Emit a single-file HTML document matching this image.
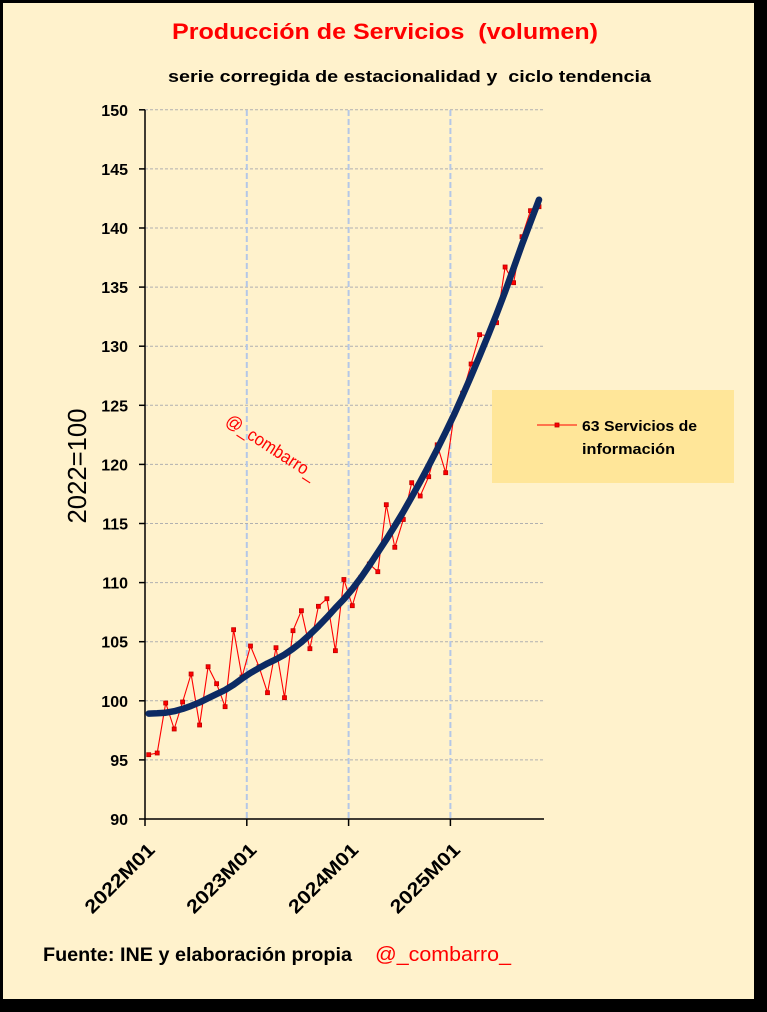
<!DOCTYPE html>
<html><head><meta charset="utf-8">
<style>
html,body{margin:0;padding:0;background:#000;}
svg{display:block;}
text{font-family:"Liberation Sans",Arial,sans-serif;white-space:pre;}
</style></head>
<body>
<svg width="767" height="1012" viewBox="0 0 767 1012" xmlns="http://www.w3.org/2000/svg" xml:space="preserve">
<rect x="0" y="0" width="767" height="1012" fill="#000"/>
<rect x="3" y="3" width="751" height="996" fill="#FFF2CC"/>
<text x="385" y="39" font-size="22.5" font-weight="bold" fill="#FF0000" text-anchor="middle" textLength="426" lengthAdjust="spacingAndGlyphs">Producción de Servicios  (volumen)</text>
<text x="409.5" y="82" font-size="16.5" font-weight="bold" fill="#000" text-anchor="middle" textLength="483" lengthAdjust="spacingAndGlyphs">serie corregida de estacionalidad y  ciclo tendencia</text>
<g stroke="#B0B0B0" stroke-width="1" stroke-dasharray="3,2">
<line x1="145" y1="759.9" x2="544" y2="759.9"/>
<line x1="145" y1="700.8" x2="544" y2="700.8"/>
<line x1="145" y1="641.7" x2="544" y2="641.7"/>
<line x1="145" y1="582.6" x2="544" y2="582.6"/>
<line x1="145" y1="523.5" x2="544" y2="523.5"/>
<line x1="145" y1="464.4" x2="544" y2="464.4"/>
<line x1="145" y1="405.3" x2="544" y2="405.3"/>
<line x1="145" y1="346.2" x2="544" y2="346.2"/>
<line x1="145" y1="287.1" x2="544" y2="287.1"/>
<line x1="145" y1="228.0" x2="544" y2="228.0"/>
<line x1="145" y1="168.9" x2="544" y2="168.9"/>
<line x1="145" y1="109.8" x2="544" y2="109.8"/>
</g>
<g stroke="#B4C7E7" stroke-width="2" stroke-dasharray="6,3">
<line x1="246.8" y1="110" x2="246.8" y2="819"/>
<line x1="348.6" y1="110" x2="348.6" y2="819"/>
<line x1="450.4" y1="110" x2="450.4" y2="819"/>
</g>
<g stroke="#000" stroke-width="1.5">
<line x1="145" y1="109.8" x2="145" y2="819"/>
<line x1="145" y1="819" x2="544" y2="819"/>
<line x1="139" y1="819" x2="145" y2="819"/>
<line x1="139" y1="759.9" x2="145" y2="759.9"/>
<line x1="139" y1="700.8" x2="145" y2="700.8"/>
<line x1="139" y1="641.7" x2="145" y2="641.7"/>
<line x1="139" y1="582.6" x2="145" y2="582.6"/>
<line x1="139" y1="523.5" x2="145" y2="523.5"/>
<line x1="139" y1="464.4" x2="145" y2="464.4"/>
<line x1="139" y1="405.3" x2="145" y2="405.3"/>
<line x1="139" y1="346.2" x2="145" y2="346.2"/>
<line x1="139" y1="287.1" x2="145" y2="287.1"/>
<line x1="139" y1="228.0" x2="145" y2="228.0"/>
<line x1="139" y1="168.9" x2="145" y2="168.9"/>
<line x1="139" y1="109.8" x2="145" y2="109.8"/>
<line x1="145" y1="819" x2="145" y2="826"/>
<line x1="246.8" y1="819" x2="246.8" y2="826"/>
<line x1="348.6" y1="819" x2="348.6" y2="826"/>
<line x1="450.4" y1="819" x2="450.4" y2="826"/>
</g>
<g font-size="16" font-weight="bold" fill="#000" text-anchor="end">
<text x="128" y="825">90</text>
<text x="128" y="765.9">95</text>
<text x="128" y="706.8">100</text>
<text x="128" y="647.7">105</text>
<text x="128" y="588.6">110</text>
<text x="128" y="529.5">115</text>
<text x="128" y="470.4">120</text>
<text x="128" y="411.3">125</text>
<text x="128" y="352.2">130</text>
<text x="128" y="293.1">135</text>
<text x="128" y="234.0">140</text>
<text x="128" y="174.9">145</text>
<text x="128" y="115.8">150</text>
</g>
<text transform="translate(86,466) rotate(-90)" font-size="26" fill="#000" text-anchor="middle" textLength="115" lengthAdjust="spacingAndGlyphs">2022=100</text>
<g font-size="19" font-weight="bold" fill="#000" text-anchor="end">
<text transform="translate(156,851) rotate(-45)" textLength="90" lengthAdjust="spacingAndGlyphs">2022M01</text>
<text transform="translate(257.8,851) rotate(-45)" textLength="90" lengthAdjust="spacingAndGlyphs">2023M01</text>
<text transform="translate(359.6,851) rotate(-45)" textLength="90" lengthAdjust="spacingAndGlyphs">2024M01</text>
<text transform="translate(461.4,851) rotate(-45)" textLength="90" lengthAdjust="spacingAndGlyphs">2025M01</text>
</g>
<text transform="translate(268,452) rotate(33)" font-size="18" fill="#FF0000" text-anchor="middle" textLength="104" lengthAdjust="spacingAndGlyphs">@_combarro_</text>
<polyline fill="none" stroke="#FF0000" stroke-width="1.1" points="148.7,754.7 157.2,753 165.7,703 174.2,729 182.6,702 191.1,674 199.6,725 208.1,666.7 216.6,683.7 225.1,706.7 233.6,629.7 242.0,677 250.5,646 259.0,666.7 267.5,692.7 276.0,647.7 284.5,697.7 293.0,630.7 301.4,610.7 309.9,648.7 318.4,606.3 326.9,598.7 335.4,650.7 343.9,579.5 352.3,605.7 360.8,577.3 369.3,564 377.8,571.7 386.3,504.7 394.8,547.3 403.3,519.5 411.7,482.7 420.2,496 428.7,476.7 437.2,444.8 445.7,472.7 454.2,414.4 462.6,393.2 471.1,364 479.6,334.7 488.1,335.7 496.6,322.7 505.1,267 513.6,282.7 522.0,236.7 530.5,210.7 539.0,206.7"/>
<g fill="#FF0000" stroke="#C00000" stroke-width="0.8">
<rect x="146.7" y="752.7" width="4" height="4"/>
<rect x="155.2" y="751" width="4" height="4"/>
<rect x="163.7" y="701" width="4" height="4"/>
<rect x="172.2" y="727" width="4" height="4"/>
<rect x="180.6" y="700" width="4" height="4"/>
<rect x="189.1" y="672" width="4" height="4"/>
<rect x="197.6" y="723" width="4" height="4"/>
<rect x="206.1" y="664.7" width="4" height="4"/>
<rect x="214.6" y="681.7" width="4" height="4"/>
<rect x="223.1" y="704.7" width="4" height="4"/>
<rect x="231.6" y="627.7" width="4" height="4"/>
<rect x="240.0" y="675" width="4" height="4"/>
<rect x="248.5" y="644" width="4" height="4"/>
<rect x="257.0" y="664.7" width="4" height="4"/>
<rect x="265.5" y="690.7" width="4" height="4"/>
<rect x="274.0" y="645.7" width="4" height="4"/>
<rect x="282.5" y="695.7" width="4" height="4"/>
<rect x="291.0" y="628.7" width="4" height="4"/>
<rect x="299.4" y="608.7" width="4" height="4"/>
<rect x="307.9" y="646.7" width="4" height="4"/>
<rect x="316.4" y="604.3" width="4" height="4"/>
<rect x="324.9" y="596.7" width="4" height="4"/>
<rect x="333.4" y="648.7" width="4" height="4"/>
<rect x="341.9" y="577.5" width="4" height="4"/>
<rect x="350.3" y="603.7" width="4" height="4"/>
<rect x="358.8" y="575.3" width="4" height="4"/>
<rect x="367.3" y="562" width="4" height="4"/>
<rect x="375.8" y="569.7" width="4" height="4"/>
<rect x="384.3" y="502.7" width="4" height="4"/>
<rect x="392.8" y="545.3" width="4" height="4"/>
<rect x="401.3" y="517.5" width="4" height="4"/>
<rect x="409.7" y="480.7" width="4" height="4"/>
<rect x="418.2" y="494" width="4" height="4"/>
<rect x="426.7" y="474.7" width="4" height="4"/>
<rect x="435.2" y="442.8" width="4" height="4"/>
<rect x="443.7" y="470.7" width="4" height="4"/>
<rect x="452.2" y="412.4" width="4" height="4"/>
<rect x="460.6" y="391.2" width="4" height="4"/>
<rect x="469.1" y="362" width="4" height="4"/>
<rect x="477.6" y="332.7" width="4" height="4"/>
<rect x="486.1" y="333.7" width="4" height="4"/>
<rect x="494.6" y="320.7" width="4" height="4"/>
<rect x="503.1" y="265" width="4" height="4"/>
<rect x="511.6" y="280.7" width="4" height="4"/>
<rect x="520.0" y="234.7" width="4" height="4"/>
<rect x="528.5" y="208.7" width="4" height="4"/>
<rect x="537.0" y="204.7" width="4" height="4"/>
</g>
<polyline fill="none" stroke="#0C2A63" stroke-width="6.5" stroke-linejoin="round" stroke-linecap="round" points="148.7,713.6 157.2,713.3 165.7,712.7 174.2,711.2 182.6,708.9 191.1,705.9 199.6,702.4 208.1,698.2 216.6,694.1 225.1,690.0 233.6,684.7 242.0,678.6 250.5,672.9 259.0,668.1 267.5,663.4 276.0,659.3 284.5,654.6 293.0,648.7 301.4,642.2 309.9,634.5 318.4,626.3 326.9,617.4 335.4,608.0 343.9,599.1 352.3,589.1 360.8,577.9 369.3,565.5 377.8,552.5 386.3,539.5 394.8,525.9 403.3,511.8 411.7,497.0 420.2,481.7 428.7,465.8 437.2,449.3 445.7,432.1 454.2,414.4 462.6,395.6 471.1,376.1 479.6,356.0 488.1,335.4 496.6,314.1 505.1,291.7 513.6,268.1 522.0,244.5 530.5,222.1 539.0,199.7"/>
<rect x="492" y="390" width="242" height="93" fill="#FFE699"/>
<line x1="537" y1="425" x2="577" y2="425" stroke="#FF0000" stroke-width="1"/>
<rect x="555" y="423" width="4" height="4" fill="#FF0000" stroke="#C00000" stroke-width="0.8"/>
<text x="582" y="431" font-size="15" font-weight="bold" fill="#000" textLength="115" lengthAdjust="spacingAndGlyphs">63 Servicios de</text>
<text x="582" y="454" font-size="15" font-weight="bold" fill="#000" textLength="93" lengthAdjust="spacingAndGlyphs">información</text>
<text x="43" y="961" font-size="19" font-weight="bold" fill="#000" textLength="309" lengthAdjust="spacingAndGlyphs">Fuente: INE y elaboración propia</text>
<text x="375" y="961" font-size="20" fill="#FF0000" textLength="136" lengthAdjust="spacingAndGlyphs">@_combarro_</text>
</svg>
</body></html>
